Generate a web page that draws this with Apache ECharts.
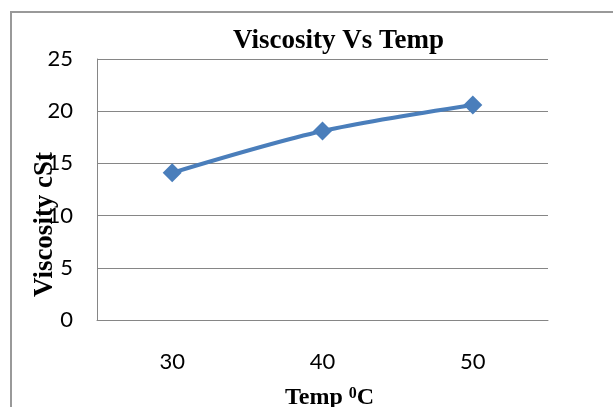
<!DOCTYPE html>
<html>
<head>
<meta charset="utf-8">
<script src="https://cdn.jsdelivr.net/npm/echarts@6/dist/echarts.min.js"></script>
<style>
    html, body { margin: 0; padding: 0; background: #fff; }
    #chart { width: 613px; height: 407px; }
</style>
</head>
<body>
<div id="chart"></div>
<script>
// 温度 / 粘度
var temps = ['30', '40', '50'];
var viscosity = [14.1, 18.1, 20.6];
var yTicks = { min: 0, max: 25, step: 5 };

var chart = echarts.init(document.getElementById('chart'));
var serif = '"Liberation Serif", "Times New Roman", serif';
var sans = 'Lato, "Open Sans", sans-serif';

var option = {
    animation: false,
    backgroundColor: '#fff',
    title: {
        text: 'Viscosity Vs Temp',
        left: 228,
        top: 23,
        textStyle: {
            fontFamily: serif,
            fontWeight: 'bold',
            fontSize: 27,
            color: '#000'
        }
    },
    graphic: [
        {
            type: 'rect',
            shape: { x: 11, y: 12, width: 700, height: 500 },
            style: { fill: 'none', stroke: '#999', lineWidth: 2 },
            silent: true
        }
    ],
    grid: {
        left: 97,
        top: 59,
        width: 451,
        height: 261,
        outerBoundsMode: 'none',
        containLabel: false
    },
    xAxis: {
        type: 'category',
        data: temps,
        boundaryGap: true,
        axisLine: { lineStyle: { color: '#868686', width: 1 } },
        axisTick: { show: false },
        axisLabel: {
            margin: 31,
            fontFamily: sans,
            fontSize: 22,
            color: '#000'
        },
        name: 'Temp {sup|0}C',
        nameLocation: 'middle',
        nameGap: 66,
        nameMoveOverlap: false,
        nameTextStyle: {
            fontFamily: serif,
            fontWeight: 'bold',
            fontSize: 24,
            color: '#000',
            padding: [0, 0, 0, 14],
            rich: {
                sup: {
                    fontFamily: serif,
                    fontWeight: 'bold',
                    fontSize: 16,
                    verticalAlign: 'top',
                    padding: [0, 0, 8, 0]
                }
            }
        }
    },
    yAxis: {
        type: 'value',
        min: yTicks.min,
        max: yTicks.max,
        interval: yTicks.step,
        axisLine: { show: true, lineStyle: { color: '#868686', width: 1 } },
        axisTick: { show: false },
        splitLine: { lineStyle: { color: '#868686', width: 1 } },
        axisLabel: {
            margin: 24,
            fontFamily: sans,
            fontSize: 22,
            color: '#000'
        },
        name: 'Viscosity cSt',
        nameLocation: 'middle',
        nameGap: 38,
        nameMoveOverlap: false,
        nameTextStyle: {
            fontFamily: serif,
            fontWeight: 'bold',
            fontSize: 27,
            color: '#000',
            padding: [0, 70, 0, 0]
        }
    },
    series: [
        {
            name: 'Viscosity',
            type: 'line',
            data: viscosity,
            smooth: 0.3,
            symbol: 'diamond',
            symbolSize: 19,
            lineStyle: { color: '#4a7ebb', width: 4 },
            itemStyle: { color: '#4a7ebb' }
        }
    ]
};
chart.setOption(option);
</script>
</body>
</html>
